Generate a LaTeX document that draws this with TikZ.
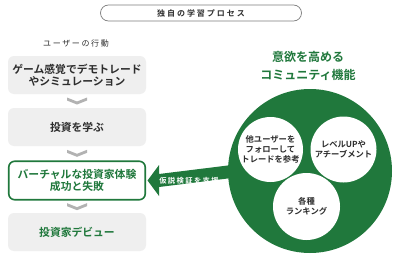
\documentclass[tikz,border=0pt]{standalone}
\usepackage{fontspec}
\setmainfont{Noto Sans CJK JP}[BoldFont={Noto Sans CJK JP Bold}]
\usetikzlibrary{calc}
\definecolor{grn}{RGB}{32,120,60}
\definecolor{boxgray}{RGB}{239,239,239}
\definecolor{chevgray}{RGB}{178,178,178}
\definecolor{txt}{RGB}{45,45,45}
\definecolor{pillc}{RGB}{125,125,125}
\newcommand{\fs}[2]{\fontsize{#1}{#2}\selectfont}
\makeatletter
\newcommand{\lsp}[2]{\kern-#1\relax\@tfor\lsp@c:=#2\do{\kern#1\relax\lsp@c}}
\makeatother
\begin{document}
\begin{tikzpicture}[x=1pt,y=-1pt,
  stepbox/.style={rounded corners=6pt, fill=boxgray, minimum width=138pt, minimum height=38pt,
    font=\bfseries\fs{10.8}{12.5}, align=center, text=txt, inner sep=0pt},
  chev/.style={fill=chevgray, draw=none},
  bigcirc/.style={circle, fill=grn, minimum size=164pt, inner sep=0pt},
  smallcirc/.style={circle, fill=white, inner sep=0pt, align=center, text=txt, font=\bfseries\fs{8.3}{10}},
]
\useasboundingbox (0,0) rectangle (397,257);
\fill[white] (0,0) rectangle (397,257);
% top pill
\node[draw=pillc, line width=0.7pt, rounded corners=8pt, minimum width=201pt, minimum height=16pt,
  inner sep=0pt, text=txt, font=\bfseries\fs{8}{9}] (pill) at (201,13) {\lsp{2pt}{独自の学習プロセス}};
% left column
\node[text=txt, font=\fs{8}{9}] (lab) at (76,43) {\lsp{1.6pt}{ユーザーの行動}};
\node[stepbox] (b1) at (77,75) {ゲーム感覚でデモトレード\\やシミュレーション};
\node[stepbox] (b2) at (77,127) {投資を学ぶ};
\node[stepbox, fill=white, draw=grn, line width=1.6pt, minimum width=136.5pt, text=grn, minimum height=38.5pt] (b3) at (77,180.5) {バーチャルな投資家体験\\成功と失敗};
\node[stepbox, text=grn] (b4) at (77,232) {投資家デビュー};
% chevrons
\foreach \a/\b in {b1/b2,b2/b3,b3/b4}{
  \path ($(\a.south)!0.5!(\b.north)$) coordinate (m);
  \fill[chev] ($(m)+(-10,-3.5)$) -- ($(m)+(0,0.5)$) -- ($(m)+(10,-3.5)$) -- ($(m)+(10,-0.5)$) -- ($(m)+(0,3.5)$) -- ($(m)+(-10,-0.5)$) -- cycle;
}
% community circle
\node[text=grn, align=center, font=\bfseries\fs{12}{18}] (title) at (308,66) {意欲を高める\\コミュニティ機能};
\node[bigcirc] (big) at (310,171) {};
% arrow
\coordinate (tip) at ($(b3.east)+(1.5,0)$);
\fill[grn] (tip) -- ($(tip)+(11.5,-15.5)$) -- ($(tip)+(11.5,-6.5)$) -- ($(big.west)+(8,-6.5)$)
  -- ($(big.west)+(8,6.5)$) -- ($(tip)+(11.5,6.5)$) -- ($(tip)+(11.5,15.5)$) -- cycle;
\node[text=white, font=\bfseries\fs{7.3}{8}] (lbl) at (189,180.5) {\lsp{1.4pt}{仮説検証を支援}};
% inner circles
\node[smallcirc, minimum size=65pt] (c1) at (270.5,149.5) {他ユーザーを\\フォローして\\トレードを参考};
\node[smallcirc, minimum size=66pt] (c2) at (343.5,149.5) {レベルUPや\\アチーブメント};
\node[smallcirc, minimum size=67pt] (c3) at (306.5,206.5) {各種\\ランキング};
\end{tikzpicture}
\end{document}
